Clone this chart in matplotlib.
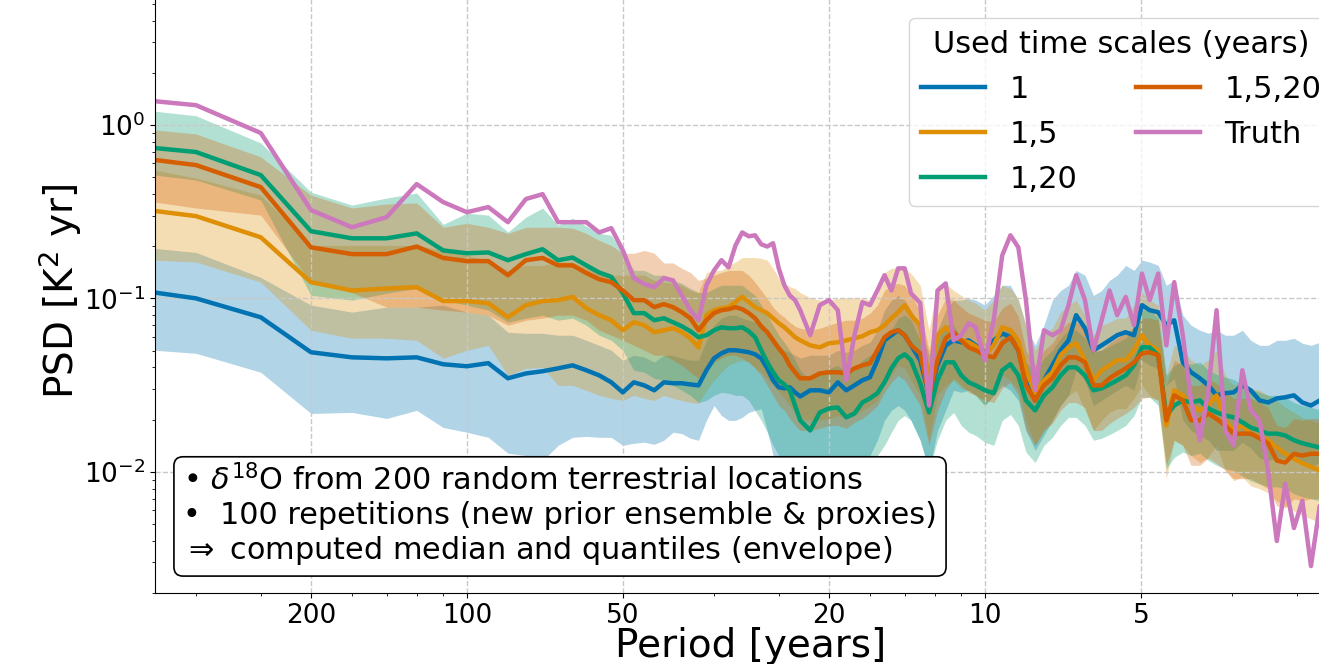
import matplotlib.pyplot as plt
from matplotlib.ticker import FixedLocator, FixedFormatter, NullFormatter
import numpy as np

# frequency grid (1/yr)
freq = [0.0025, 0.003, 0.004, 0.005, 0.006, 0.007, 0.008, 0.009, 0.010, 0.011,
        0.012, 0.013, 0.014, 0.015, 0.016, 0.017, 0.018, 0.019, 0.020, 0.021,
        0.022, 0.023, 0.024, 0.025, 0.026, 0.027, 0.028, 0.029, 0.030, 0.031,
        0.032, 0.033, 0.034, 0.035, 0.036, 0.037, 0.038, 0.039, 0.040, 0.041,
        0.042, 0.043, 0.044, 0.046, 0.048, 0.050, 0.052, 0.054, 0.056, 0.058,
        0.060, 0.062, 0.064, 0.066, 0.068, 0.070, 0.072, 0.075, 0.078, 0.081,
        0.084, 0.087, 0.090, 0.093, 0.096, 0.100, 0.104, 0.108, 0.112, 0.116,
        0.120, 0.125, 0.130, 0.135, 0.140, 0.145, 0.150, 0.156, 0.162, 0.168,
        0.174, 0.180, 0.187, 0.194, 0.201, 0.208, 0.216, 0.224, 0.232, 0.241,
        0.250, 0.260, 0.270, 0.280, 0.291, 0.302, 0.314, 0.326, 0.339, 0.352,
        0.366, 0.380, 0.395, 0.410, 0.426, 0.443, 0.460]

truth = [1.37, 1.30, 0.899, 0.323, 0.257, 0.294, 0.456, 0.359, 0.314, 0.336,
         0.275, 0.374, 0.399, 0.275, 0.275, 0.275, 0.240, 0.254, 0.189, 0.131,
         0.121, 0.116, 0.131, 0.127, 0.104, 0.0855, 0.0748, 0.119, 0.145, 0.166,
         0.151, 0.202, 0.240, 0.228, 0.231, 0.205, 0.199, 0.208, 0.149, 0.119,
         0.104, 0.0977, 0.0855, 0.0613, 0.0914, 0.0977, 0.0855, 0.0337, 0.0613, 0.0950,
         0.0914, 0.111, 0.136, 0.111, 0.149, 0.149, 0.107, 0.094, 0.0241, 0.111,
         0.122, 0.0573, 0.0613, 0.0719, 0.0681, 0.0440, 0.0748, 0.177, 0.231, 0.197,
         0.0977, 0.0295, 0.0655, 0.0613, 0.0655, 0.0914, 0.136, 0.0977, 0.0502, 0.0748,
         0.111, 0.0800, 0.102, 0.0700, 0.139, 0.0977, 0.139, 0.0536, 0.124, 0.0613,
         0.0258, 0.0152, 0.0295, 0.0855, 0.0173, 0.0142, 0.0385, 0.0226, 0.0198, 0.0102,
         0.00399, 0.00852, 0.00474, 0.00680, 0.00286, 0.00636, 0.00399]

# time scale "1"
med_1 = [0.108, 0.100, 0.0778, 0.0489, 0.0457, 0.0451, 0.0457, 0.0417, 0.0406, 0.0423,
         0.0346, 0.0369, 0.0380, 0.0395, 0.0411, 0.0385, 0.0360, 0.0328, 0.0287, 0.0328,
         0.0315, 0.0295, 0.0328, 0.0324, 0.0324, 0.0319, 0.0315, 0.0385, 0.0451, 0.0482,
         0.0502, 0.0502, 0.0496, 0.0489, 0.0476, 0.0451, 0.0395, 0.0337, 0.0307, 0.0303,
         0.0307, 0.0287, 0.0272, 0.0295, 0.0295, 0.0287, 0.0328, 0.0295, 0.0315, 0.0337,
         0.0351, 0.0440, 0.0573, 0.0613, 0.0655, 0.0613, 0.0536, 0.0440, 0.0276, 0.0411,
         0.0536, 0.0573, 0.0558, 0.0573, 0.0536, 0.0482, 0.0573, 0.0629, 0.0597, 0.0502,
         0.0337, 0.0258, 0.0337, 0.0411, 0.0502, 0.0573, 0.0800, 0.0673, 0.0502, 0.0536,
         0.0573, 0.0613, 0.0638, 0.0613, 0.0914, 0.0855, 0.0832, 0.0700, 0.0748, 0.0428,
         0.0375, 0.0346, 0.0315, 0.0276, 0.0284, 0.0287, 0.0315, 0.0295, 0.0258, 0.0251,
         0.0265, 0.0269, 0.0276, 0.0251, 0.0241, 0.0258, 0.0251]
hi_1 = [0.194, 0.184, 0.132, 0.0914, 0.0833, 0.0890, 0.0890, 0.0914, 0.0833, 0.0800,
        0.0638, 0.0629, 0.0629, 0.0613, 0.0613, 0.0573, 0.0536, 0.0502, 0.0440, 0.0470,
        0.0458, 0.0429, 0.0470, 0.0470, 0.0452, 0.0440, 0.0440, 0.0573, 0.0700, 0.0769,
        0.0800, 0.0800, 0.0769, 0.0748, 0.0729, 0.0700, 0.0655, 0.0589, 0.0536, 0.0502,
        0.0489, 0.0470, 0.0452, 0.0470, 0.0470, 0.0470, 0.0502, 0.0489, 0.0502, 0.0536,
        0.0558, 0.0655, 0.0855, 0.0977, 0.104, 0.0977, 0.0855, 0.0700, 0.0470, 0.0655,
        0.0855, 0.0977, 0.0977, 0.100, 0.0977, 0.0914, 0.104, 0.119, 0.119, 0.0977,
        0.0700, 0.0536, 0.0700, 0.0977, 0.111, 0.119, 0.145, 0.136, 0.104, 0.111,
        0.127, 0.136, 0.155, 0.145, 0.166, 0.162, 0.155, 0.119, 0.127, 0.0800,
        0.0700, 0.0655, 0.0629, 0.0655, 0.0613, 0.0613, 0.0655, 0.0573, 0.0536, 0.0536,
        0.0573, 0.0573, 0.0589, 0.0551, 0.0536, 0.0558, 0.0536]
lo_1 = [0.0502, 0.0482, 0.0375, 0.0217, 0.0220, 0.0203, 0.0226, 0.0180, 0.0169, 0.0158,
        0.0128, 0.0124, 0.0116, 0.0142, 0.0158, 0.0160, 0.0158, 0.0158, 0.0142, 0.0146,
        0.0148, 0.0144, 0.0152, 0.0169, 0.0166, 0.0156, 0.0152, 0.0198, 0.0241, 0.0211,
        0.0198, 0.0198, 0.0206, 0.0220, 0.0226, 0.0231, 0.0173, 0.0124, 0.0102, 0.00948,
        0.00887, 0.00830, 0.00830, 0.00887, 0.00912, 0.00948, 0.0102, 0.0099, 0.0104, 0.0113,
        0.0124, 0.0152, 0.0198, 0.0226, 0.0241, 0.0226, 0.0198, 0.0152, 0.0102, 0.0173,
        0.0226, 0.0295, 0.0287, 0.0295, 0.0276, 0.0241, 0.0276, 0.0315, 0.0295, 0.0258,
        0.0173, 0.0133, 0.0162, 0.0198, 0.0241, 0.0276, 0.0385, 0.0337, 0.0241, 0.0258,
        0.0276, 0.0295, 0.0315, 0.0295, 0.0440, 0.0411, 0.0395, 0.0315, 0.0346, 0.0198,
        0.0173, 0.0162, 0.0152, 0.0133, 0.0133, 0.0133, 0.0148, 0.0137, 0.0120, 0.0116,
        0.0120, 0.0120, 0.0122, 0.0112, 0.0107, 0.0113, 0.0109]

# time scales "1,5"
med_15 = [0.319, 0.298, 0.225, 0.124, 0.111, 0.114, 0.116, 0.0965, 0.0965, 0.0938,
          0.0778, 0.0914, 0.0965, 0.0977, 0.102, 0.0878, 0.0800, 0.0748, 0.0655, 0.0728,
          0.0700, 0.0638, 0.0655, 0.0673, 0.0638, 0.0589, 0.0522, 0.0800, 0.0855, 0.0878,
          0.0890, 0.0952, 0.102, 0.0952, 0.0890, 0.0855, 0.0822, 0.0768, 0.0719, 0.0681,
          0.0638, 0.0597, 0.0573, 0.0536, 0.0522, 0.0551, 0.0558, 0.0573, 0.0589, 0.0605,
          0.0638, 0.0655, 0.0700, 0.0768, 0.0832, 0.0914, 0.0800, 0.0700, 0.0337, 0.0613,
          0.0681, 0.0613, 0.0573, 0.0558, 0.0529, 0.0470, 0.0536, 0.0681, 0.0655, 0.0573,
          0.0385, 0.0284, 0.0337, 0.0375, 0.0470, 0.0522, 0.0551, 0.0440, 0.0337, 0.0385,
          0.0411, 0.0440, 0.0440, 0.0502, 0.0613, 0.0536, 0.0502, 0.0185, 0.0295, 0.0276,
          0.0241, 0.0226, 0.0241, 0.0276, 0.0198, 0.0173, 0.0185, 0.0166, 0.0159, 0.0152,
          0.0138, 0.0127, 0.0119, 0.0112, 0.0107, 0.0102, 0.0102]
hi_15 = [0.549, 0.494, 0.394, 0.202, 0.202, 0.202, 0.202, 0.189, 0.177, 0.166,
         0.145, 0.155, 0.155, 0.162, 0.162, 0.149, 0.145, 0.136, 0.136, 0.136,
         0.136, 0.127, 0.124, 0.122, 0.119, 0.111, 0.108, 0.141, 0.145, 0.145,
         0.155, 0.162, 0.172, 0.172, 0.172, 0.170, 0.166, 0.149, 0.131, 0.122,
         0.117, 0.114, 0.108, 0.101, 0.0977, 0.0977, 0.100, 0.101, 0.101, 0.100,
         0.0977, 0.104, 0.141, 0.149, 0.151, 0.149, 0.139, 0.119, 0.0655, 0.119,
         0.122, 0.111, 0.104, 0.0977, 0.0938, 0.0855, 0.0977, 0.119, 0.114, 0.100,
         0.0700, 0.0502, 0.0613, 0.0673, 0.0833, 0.0914, 0.0977, 0.0800, 0.0613, 0.0700,
         0.0729, 0.0769, 0.0769, 0.0914, 0.108, 0.0977, 0.0914, 0.0360, 0.0536, 0.0502,
         0.0440, 0.0411, 0.0440, 0.0502, 0.0360, 0.0315, 0.0337, 0.0303, 0.0295, 0.0276,
         0.0258, 0.0235, 0.0220, 0.0206, 0.0198, 0.0190, 0.0190]
lo_15 = [0.166, 0.162, 0.124, 0.0655, 0.0589, 0.0589, 0.0573, 0.0452, 0.0502, 0.0536,
         0.0360, 0.0395, 0.0400, 0.0315, 0.0315, 0.0295, 0.0276, 0.0265, 0.0258, 0.0276,
         0.0265, 0.0258, 0.0276, 0.0265, 0.0258, 0.0251, 0.0248, 0.0295, 0.0337, 0.0375,
         0.0411, 0.0429, 0.0440, 0.0429, 0.0400, 0.0375, 0.0346, 0.0315, 0.0287, 0.0265,
         0.0241, 0.0220, 0.0203, 0.0198, 0.0198, 0.0203, 0.0211, 0.0203, 0.0211, 0.0226,
         0.0241, 0.0258, 0.0315, 0.0360, 0.0411, 0.0395, 0.0337, 0.0276, 0.0152, 0.0276,
         0.0315, 0.0337, 0.0303, 0.0295, 0.0276, 0.0241, 0.0276, 0.0360, 0.0337, 0.0295,
         0.0198, 0.0142, 0.0173, 0.0198, 0.0241, 0.0276, 0.0295, 0.0226, 0.0173, 0.0198,
         0.0220, 0.0231, 0.0231, 0.0265, 0.0315, 0.0276, 0.0258, 0.00912, 0.0152, 0.0142,
         0.0124, 0.0113, 0.0122, 0.0142, 0.0102, 0.00887, 0.00935, 0.00830, 0.00798, 0.00757,
         0.00680, 0.00636, 0.00595, 0.00557, 0.00535, 0.00507, 0.00507]

# time scales "1,20"
med_120 = [0.736, 0.698, 0.514, 0.244, 0.222, 0.222, 0.237, 0.189, 0.182, 0.184,
           0.166, 0.180, 0.192, 0.166, 0.172, 0.155, 0.141, 0.133, 0.107, 0.0822,
           0.0822, 0.0748, 0.0768, 0.0728, 0.0690, 0.0646, 0.0597, 0.0613, 0.0655, 0.0681,
           0.0673, 0.0673, 0.0681, 0.0646, 0.0597, 0.0502, 0.0428, 0.0375, 0.0337, 0.0319,
           0.0295, 0.0241, 0.0198, 0.0173, 0.0220, 0.0232, 0.0235, 0.0206, 0.0217, 0.0251,
           0.0265, 0.0284, 0.0328, 0.0395, 0.0451, 0.0476, 0.0440, 0.0324, 0.0220, 0.0337,
           0.0428, 0.0428, 0.0360, 0.0328, 0.0315, 0.0295, 0.0284, 0.0385, 0.0417, 0.0360,
           0.0258, 0.0226, 0.0276, 0.0307, 0.0360, 0.0400, 0.0400, 0.0360, 0.0295, 0.0303,
           0.0319, 0.0337, 0.0360, 0.0411, 0.0522, 0.0522, 0.0470, 0.0211, 0.0241, 0.0258,
           0.0251, 0.0258, 0.0232, 0.0220, 0.0211, 0.0206, 0.0193, 0.0180, 0.0173, 0.0166,
           0.0166, 0.0162, 0.0152, 0.0146, 0.0142, 0.0138, 0.0136]
hi_120 = [1.20, 1.13, 0.787, 0.410, 0.345, 0.379, 0.405, 0.267, 0.310, 0.302,
          0.241, 0.294, 0.332, 0.264, 0.290, 0.261, 0.237, 0.231, 0.182, 0.145,
          0.145, 0.136, 0.136, 0.127, 0.122, 0.114, 0.108, 0.108, 0.114, 0.119,
          0.119, 0.119, 0.119, 0.111, 0.104, 0.0914, 0.0800, 0.0700, 0.0613, 0.0558,
          0.0502, 0.0440, 0.0385, 0.0337, 0.0375, 0.0395, 0.0411, 0.0375, 0.0385, 0.0440,
          0.0470, 0.0502, 0.0573, 0.0655, 0.0769, 0.0800, 0.0748, 0.0573, 0.0385, 0.0573,
          0.0700, 0.0700, 0.0589, 0.0536, 0.0515, 0.0489, 0.0470, 0.0629, 0.0681, 0.0589,
          0.0429, 0.0375, 0.0452, 0.0502, 0.0589, 0.0655, 0.0655, 0.0589, 0.0489, 0.0502,
          0.0529, 0.0558, 0.0589, 0.0673, 0.0855, 0.0855, 0.0769, 0.0360, 0.0411, 0.0429,
          0.0417, 0.0429, 0.0385, 0.0365, 0.0351, 0.0341, 0.0319, 0.0299, 0.0287, 0.0276,
          0.0276, 0.0269, 0.0251, 0.0241, 0.0235, 0.0228, 0.0226]
lo_120 = [0.514, 0.481, 0.369, 0.104, 0.0977, 0.107, 0.114, 0.0977, 0.0914, 0.0855,
          0.0729, 0.0769, 0.0800, 0.0748, 0.0769, 0.0700, 0.0613, 0.0573, 0.0502, 0.0385,
          0.0375, 0.0346, 0.0337, 0.0315, 0.0295, 0.0276, 0.0251, 0.0258, 0.0276, 0.0287,
          0.0284, 0.0276, 0.0276, 0.0258, 0.0226, 0.0198, 0.0169, 0.0142, 0.0124, 0.0116,
          0.0109, 0.00948, 0.00887, 0.00864, 0.00948, 0.0102, 0.0104, 0.00948, 0.0102, 0.0109,
          0.0116, 0.0124, 0.0142, 0.0169, 0.0198, 0.0211, 0.0198, 0.0152, 0.0102, 0.0152,
          0.0198, 0.0220, 0.0185, 0.0169, 0.0162, 0.0148, 0.0142, 0.0198, 0.0214, 0.0185,
          0.0130, 0.0113, 0.0142, 0.0158, 0.0185, 0.0206, 0.0206, 0.0185, 0.0152, 0.0156,
          0.0164, 0.0173, 0.0185, 0.0211, 0.0269, 0.0269, 0.0241, 0.0104, 0.0121, 0.0130,
          0.0124, 0.0128, 0.0116, 0.0109, 0.0104, 0.0102, 0.00948, 0.00887, 0.00852, 0.00819,
          0.00819, 0.00798, 0.00747, 0.00718, 0.00699, 0.00680, 0.00671]

# time scales "1,5,20"
med_1520 = [0.628, 0.587, 0.438, 0.197, 0.180, 0.180, 0.199, 0.171, 0.164, 0.164,
            0.136, 0.166, 0.171, 0.155, 0.155, 0.140, 0.129, 0.124, 0.111, 0.0977,
            0.0977, 0.0890, 0.0926, 0.0890, 0.0832, 0.0768, 0.0655, 0.0748, 0.0822, 0.0855,
            0.0866, 0.0890, 0.0866, 0.0822, 0.0768, 0.0690, 0.0638, 0.0573, 0.0515, 0.0470,
            0.0411, 0.0375, 0.0346, 0.0346, 0.0369, 0.0375, 0.0375, 0.0369, 0.0395, 0.0411,
            0.0423, 0.0502, 0.0597, 0.0638, 0.0655, 0.0613, 0.0536, 0.0482, 0.0276, 0.0440,
            0.0589, 0.0638, 0.0573, 0.0522, 0.0502, 0.0470, 0.0457, 0.0551, 0.0597, 0.0502,
            0.0315, 0.0258, 0.0315, 0.0346, 0.0411, 0.0457, 0.0457, 0.0428, 0.0315, 0.0315,
            0.0346, 0.0369, 0.0395, 0.0428, 0.0482, 0.0489, 0.0470, 0.0198, 0.0276, 0.0258,
            0.0198, 0.0198, 0.0217, 0.0202, 0.0185, 0.0166, 0.0166, 0.0166, 0.0156, 0.0146,
            0.0116, 0.0113, 0.0127, 0.0124, 0.0127, 0.0127, 0.0124]
hi_1520 = [0.936, 0.887, 0.654, 0.394, 0.332, 0.350, 0.355, 0.257, 0.271, 0.257,
           0.237, 0.257, 0.257, 0.257, 0.254, 0.237, 0.216, 0.202, 0.182, 0.182,
           0.189, 0.182, 0.160, 0.160, 0.149, 0.141, 0.127, 0.131, 0.136, 0.141,
           0.145, 0.145, 0.145, 0.136, 0.124, 0.111, 0.100, 0.0890, 0.0822, 0.0779,
           0.0729, 0.0690, 0.0673, 0.0655, 0.0673, 0.0700, 0.0729, 0.0748, 0.0748, 0.0769,
           0.0822, 0.0914, 0.111, 0.119, 0.122, 0.119, 0.104, 0.0855, 0.0502, 0.0800,
           0.100, 0.0977, 0.0890, 0.0822, 0.0790, 0.0748, 0.0729, 0.0878, 0.0938, 0.0790,
           0.0502, 0.0411, 0.0502, 0.0551, 0.0655, 0.0729, 0.0729, 0.0673, 0.0502, 0.0502,
           0.0551, 0.0589, 0.0629, 0.0681, 0.0769, 0.0769, 0.0748, 0.0315, 0.0440, 0.0411,
           0.0315, 0.0315, 0.0346, 0.0324, 0.0295, 0.0265, 0.0265, 0.0265, 0.0251, 0.0235,
           0.0185, 0.0180, 0.0203, 0.0198, 0.0203, 0.0203, 0.0198]
lo_1520 = [0.359, 0.332, 0.302, 0.124, 0.108, 0.0890, 0.0890, 0.0855, 0.0833, 0.0800,
           0.0700, 0.0748, 0.0769, 0.0800, 0.0800, 0.0748, 0.0655, 0.0613, 0.0573, 0.0536,
           0.0502, 0.0470, 0.0470, 0.0440, 0.0411, 0.0375, 0.0346, 0.0385, 0.0429, 0.0452,
           0.0470, 0.0470, 0.0452, 0.0429, 0.0395, 0.0360, 0.0315, 0.0276, 0.0241, 0.0226,
           0.0203, 0.0185, 0.0173, 0.0173, 0.0178, 0.0185, 0.0185, 0.0178, 0.0193, 0.0203,
           0.0220, 0.0241, 0.0287, 0.0328, 0.0360, 0.0337, 0.0295, 0.0241, 0.0142, 0.0226,
           0.0295, 0.0346, 0.0315, 0.0287, 0.0276, 0.0258, 0.0251, 0.0303, 0.0328, 0.0276,
           0.0173, 0.0142, 0.0173, 0.0190, 0.0226, 0.0251, 0.0251, 0.0235, 0.0173, 0.0173,
           0.0190, 0.0203, 0.0217, 0.0235, 0.0265, 0.0269, 0.0258, 0.0109, 0.0152, 0.0142,
           0.0109, 0.0109, 0.0120, 0.0112, 0.0102, 0.00912, 0.00912, 0.00912, 0.00852, 0.00798,
           0.00636, 0.00620, 0.00699, 0.00680, 0.00699, 0.00699, 0.00680]

labels = ['1', '1,5', '1,20', '1,5,20']
colors = ['#0173b2', '#de8f05', '#029e73', '#d55e00']
truth_color = '#cc78bc'
meds = [med_1, med_15, med_120, med_1520]
his = [hi_1, hi_15, hi_120, hi_1520]
los = [lo_1, lo_15, lo_120, lo_1520]

period_ticks = [200, 100, 50, 20, 10, 5]

fig = plt.figure(figsize=(13.19, 6.64), dpi=100)
ax = fig.add_axes([155 / 1319, 71 / 664, 1192 / 1319, 603 / 664])

for lo, hi, c in zip(los, his, colors):
    ax.fill_between(freq, lo, hi, color=c, alpha=0.3, lw=0)
for med, c, lab in zip(meds, colors, labels):
    ax.plot(freq, med, color=c, lw=3.2, label=lab)
ax.plot(freq, truth, color=truth_color, lw=3.2, label='Truth')

ax.set_xscale('log')
ax.set_yscale('log')
ax.set_xlim(1 / 400, 0.5)
ax.set_ylim(2e-3, 6)

ax.xaxis.set_major_locator(FixedLocator([1 / p for p in period_ticks]))
ax.xaxis.set_major_formatter(FixedFormatter([str(p) for p in period_ticks]))
ax.xaxis.set_minor_formatter(NullFormatter())
ax.tick_params(labelsize=19)
ax.grid(True, which='major', ls='--', color='#c8c8c8', lw=1)

ax.set_xlabel('Period [years]', fontsize=28, labelpad=-1)
ax.set_ylabel('PSD [K$^2$ yr]', fontsize=28, labelpad=0)

fig.legend(loc='upper left', bbox_to_anchor=(909 / 1319, 1 - 18 / 664),
           ncol=2, fontsize=22, title='Used time scales (years)', title_fontsize=22,
           borderaxespad=0, labelspacing=0.52, handlelength=2.1, columnspacing=1.9)

txt = ('• $\\delta^{18}$O from 200 random terrestrial locations\n'
       '•  100 repetitions (new prior ensemble & proxies)\n'
       '$\\Rightarrow$ computed median and quantiles (envelope)')
fig.text(183 / 1319, 1 - 567 / 664, txt, fontsize=21.8, va='bottom', ha='left',
         linespacing=1.18,
         bbox=dict(boxstyle='round,pad=0.3', fc='white', ec='black', lw=1.2), zorder=10)

fig.savefig('out.png', dpi=100)
